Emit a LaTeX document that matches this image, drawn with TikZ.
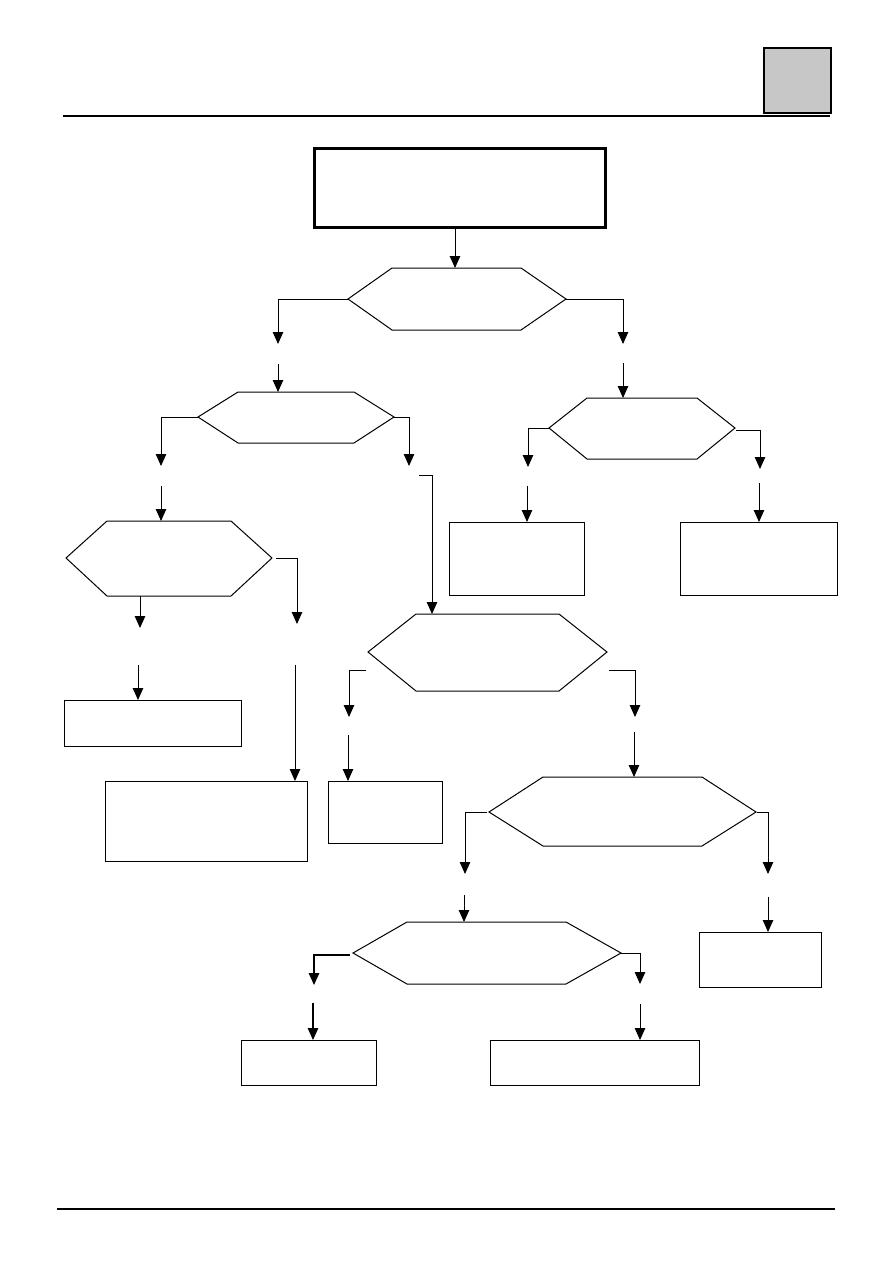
\documentclass[tikz,border=0pt]{standalone}
\usetikzlibrary{arrows.meta}
\tikzset{
  shp/.style={draw=black, line width=1pt},
  boxnode/.style={draw=black, line width=1pt, anchor=north west, inner sep=0pt, outer sep=0pt},
  arr/.style={draw=black, line width=1pt, -{Triangle[length=12pt,width=10.5pt]}},
  plain/.style={draw=black, line width=1pt},
  rulebar/.style={draw=black, line width=2.5pt},
}
% #1 name, #2 xl, #3 xtl, #4 xtr, #5 xr, #6 yt, #7 ym, #8 yb
\newcommand\myhex[8]{%
  \draw[shp] (#2,#7) -- (#3,#6) -- (#4,#6) -- (#5,#7) -- (#4,#8) -- (#3,#8) -- cycle;
  \coordinate (#1-w) at (#2,#7);
  \coordinate (#1-e) at (#5,#7);
  \coordinate (#1-n) at ({(#3+#4)/2},#6);
  \coordinate (#1-s) at ({(#3+#4)/2},#8);
}
\newcommand\mybox[5]{% name, x1, y1, x2, y2
  \node[boxnode, minimum width={(#4-#2)*1pt}, minimum height={(#5-#3)*1pt}] (#1) at (#2,#3) {};
}
\begin{document}
\begin{tikzpicture}[x=1pt,y=-1pt]
\useasboundingbox (0,0) rectangle (893,1263);
% header and footer
\node[draw=black, line width=1.5pt, fill=black!22, anchor=north west, inner sep=0pt, outer sep=0pt,
      minimum width=67pt, minimum height=65pt] (tab) at (764,48) {};
\coordinate (tl) at (63,116); \coordinate (tr) at (830,116);
\draw[rulebar] (tl) -- (tr);
\coordinate (bl) at (57,1209); \coordinate (br) at (835,1209);
\draw[rulebar] (bl) -- (br);

% start box
\node[draw=black, line width=3pt, anchor=north west, inner sep=0pt, outer sep=0pt,
      minimum width=291pt, minimum height=79pt] (start) at (314,148) {};

% hexagons
\myhex{h1}{348}{392}{521}{566}{268}{299}{330}
\myhex{h2}{198}{238}{354}{394}{392}{417}{443}
\myhex{h3}{66}{107}{231}{272}{521}{558}{596}
\myhex{h5}{549}{587}{697}{735}{398}{428}{459}
\myhex{h4}{368}{416}{559}{607}{614}{652}{691}
\myhex{h6}{489}{543}{702}{756}{777}{812}{846}
\myhex{h7}{353}{407}{566}{621}{922}{953}{984}

% boxes
\mybox{bA}{64}{700}{241}{746}
\mybox{bB}{105}{781}{307}{861}
\mybox{bC}{449}{522}{584}{595}
\mybox{bD}{680}{522}{837}{595}
\mybox{bE}{328}{781}{442}{843}
\mybox{bF}{699}{932}{821}{987}
\mybox{bG}{241}{1040}{376}{1085}
\mybox{bH}{490}{1040}{699}{1085}

% free ends of the broken connectors
\coordinate (a1) at (278,344); \coordinate (a1b) at (278,364);
\coordinate (a2) at (623,344); \coordinate (a2b) at (623,363);
\coordinate (a3) at (161,466); \coordinate (a3b) at (161,486);
\coordinate (a4) at (409,466);
\coordinate (a4b) at (419,475); \coordinate (a4c) at (432,475);
\coordinate (a5) at (140,596); \coordinate (a5e) at (140,628); \coordinate (a5b) at (138,665);
\coordinate (a6s) at (276,558); \coordinate (a6) at (297,624); \coordinate (a6b) at (295,665);
\coordinate (a7) at (528,467); \coordinate (a7b) at (527,486);
\coordinate (a8) at (760,469); \coordinate (a8b) at (759,483);
\coordinate (a9s) at (366,670); \coordinate (a9) at (349,717); \coordinate (a9b) at (348,735);
\coordinate (a10s) at (609,670); \coordinate (a10) at (635,717); \coordinate (a10b) at (634,732);
\coordinate (a11) at (465,874); \coordinate (a11b) at (464,895);
\coordinate (a12s) at (757,812); \coordinate (a12) at (768,874); \coordinate (a12b) at (768,897);
\coordinate (a13s) at (350,955); \coordinate (a13) at (314,985); \coordinate (a13b) at (313,1003);
\coordinate (a14) at (640,984); \coordinate (a14b) at (640,1004);

% connectors
\draw[arr] (start.south -| h1-n) ++(-1.5,0) -- ++(0,41);
\draw[arr] (h1-w) -| (a1);
\draw[arr] (a1b) -- (a1b |- h2-n);
\draw[arr] (h1-e) -| (a2);
\draw[arr] (a2b) -- (a2b |- h5-n);

\draw[arr] (h2-w) -| (a3);
\draw[arr] (a3b) -- (a3b |- h3-n);
\draw[arr] (h2-e) -| (a4);
\draw[arr] (a4b) -- (a4c) -- (a4c |- h4-n);

\draw[arr] (a5) -- (a5e);
\draw[arr] (a5b) -- (a5b |- bA.north);
\draw[arr] (a6s) -| (a6);
\draw[arr] (a6b) -- (a6b |- bB.north);

\draw[arr] (h5-w) -| (a7);
\draw[arr] (a7b) -- (a7b |- bC.north);
\draw[arr] (h5-e) ++(1,2) -| (a8);
\draw[arr] (a8b) -- (a8b |- bD.north);

\draw[arr] (a9s) -| (a9);
\draw[arr] (a9b) -- (a9b |- bE.north);
\draw[arr] (a10s) -| (a10);
\draw[arr] (a10b) -- (a10b |- h6-n);

\draw[arr] (h6-w) ++(-2,0) -| (a11);
\draw[arr] (a11b) -- (a11b |- h7-n);
\draw[arr] (a12s) -| (a12);
\draw[arr] (a12b) -- (a12b |- bF.north);

\draw[arr, line width=1.3pt] (a13s) -| (a13);
\draw[arr, line width=1.3pt] (a13b) -- (a13b |- bG.north);
\draw[arr] (h7-e) -| (a14);
\draw[arr] (a14b) -- (a14b |- bH.north);
\end{tikzpicture}
\end{document}
